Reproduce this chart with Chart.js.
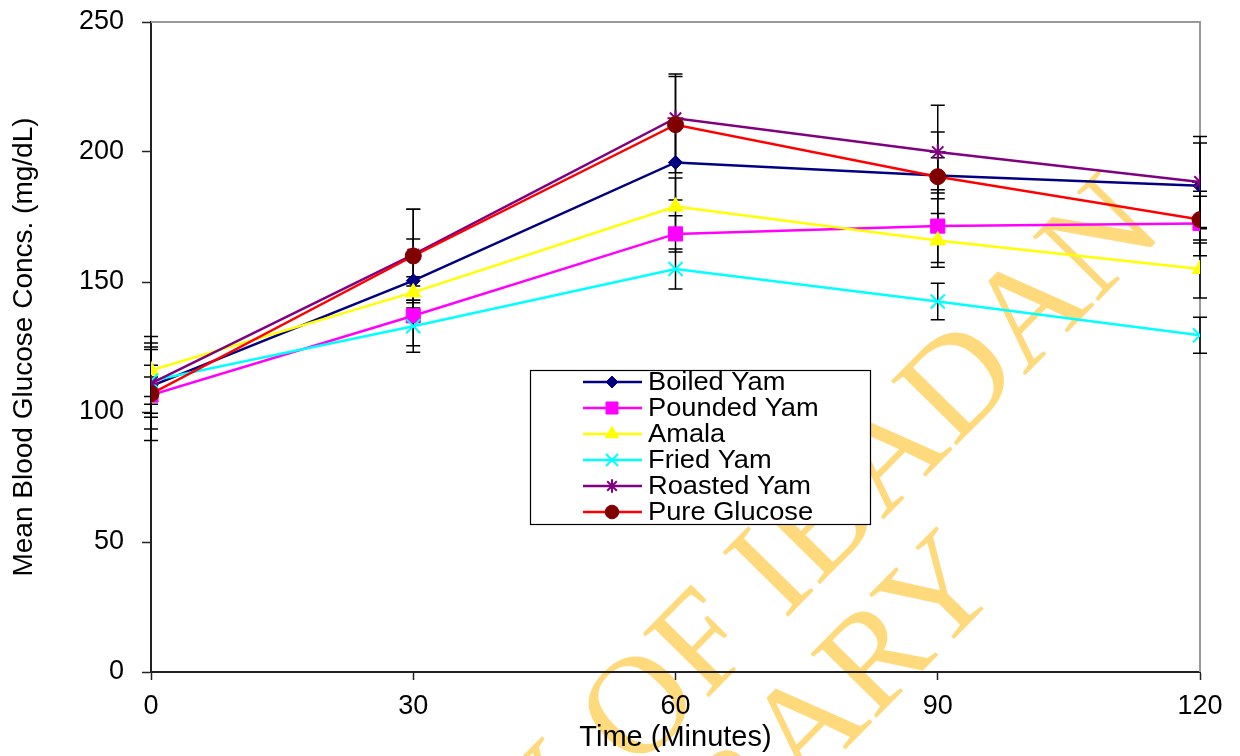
<!DOCTYPE html>
<html>
<head>
<meta charset="utf-8">
<script src="https://cdn.jsdelivr.net/npm/chart.js@4/dist/chart.umd.min.js"></script>
<style>
  body { margin: 0; background: #fff; }
  #wrap { width: 1240px; height: 756px; }
</style>
</head>
<body>
<div id="wrap"><canvas id="myChart" width="1240" height="756"></canvas></div>
<script>
// time points (minutes)
var times = [0, 30, 60, 90, 120]
var yTicks = [0, 50, 100, 150, 200, 250]

var seriesNames = ['Boiled Yam', 'Pounded Yam', 'Amala', 'Fried Yam', 'Roasted Yam', 'Pure Glucose']

// mean values
var boiled   = [110, 150.5, 196, 191, 187]
var pounded  = [106.5, 137, 168.5, 171.5, 172.5]
var amala    = [116, 146, 179, 166, 155]
var fried    = [112, 133, 155, 142.5, 129.5]
var roasted  = [111, 160.5, 213, 200, 188.5]
var glucose  = [107, 160, 210.5, 190.5, 174]

// error (+/-) for each point
var boiledErr  = [16.5, 16, 14.5, 6.8, 16.5]
var poundedErr = [7, 11.5, 7, 14, 12.4]
var amalaErr   = [13, 6, 11, 10.3, 11.2]
var friedErr   = [6, 10, 7.7, 7, 6.9]
var roastedErr = [13, 17.5, 17, 18, 17.5]
var glucoseErr = [18, 18, 18.5, 17.2, 9]

var means = [boiled, pounded, amala, fried, roasted, glucose]
var errs = [boiledErr, poundedErr, amalaErr, friedErr, roastedErr, glucoseErr]

var lineColors = ['#000080', '#ff00ff', '#ffff00', '#00ffff', '#800080', '#ff0000']
var markColors = ['#000080', '#ff00ff', '#ffff00', '#00ffff', '#800080', '#800000']
var markStyles = ['rectRot', 'rect', 'triangle', 'crossRot', 'star', 'circle']
var markSizes  = [7, 10, 9, 10, 8, 8]

Chart.defaults.font.family = '"Liberation Sans", Arial, sans-serif'
Chart.defaults.color = '#000'

var datasets = []
for (var i = 0; i < means.length; i++) {
    datasets.push({
        label: seriesNames[i],
        data: means[i].map(function(v, k){ return {x: times[k], y: v} }),
        errors: errs[i],
        borderColor: lineColors[i],
        borderWidth: 2.5,
        pointStyle: markStyles[i],
        pointRadius: markSizes[i],
        pointBackgroundColor: markColors[i],
        pointBorderColor: markColors[i],
        pointBorderWidth: (markStyles[i] == 'crossRot' || markStyles[i] == 'star') ? 2 : 1,
        fill: false,
        tension: 0,
        order: means.length - i
    })
}

// library watermark, under everything
var watermark = {
    id: 'watermark',
    beforeDraw: function(chart){
        var ctx = chart.ctx
        ctx.save()
        ctx.fillStyle = 'rgb(255,218,125)'
        ctx.font = '140px "Liberation Serif", serif'
        ctx.textAlign = 'right'
        ctx.textBaseline = 'alphabetic'
        ctx.save()
        ctx.translate(1166, 232)
        ctx.rotate(-45.5 * Math.PI / 180)
        ctx.fillText('UNIVERSITY OF IBADAN', 0, 0)
        ctx.restore()
        ctx.translate(1004, 588)
        ctx.rotate(-45.5 * Math.PI / 180)
        ctx.fillText('LIBRARY', 0, 0)
        ctx.restore()
    }
}

// gray frame on top/right + error bars
var errorBars = {
    id: 'errorBars',
    beforeDatasetsDraw: function(chart){
        var ctx = chart.ctx
        var a = chart.chartArea
        ctx.save()
        ctx.strokeStyle = '#999'
        ctx.lineWidth = 2
        ctx.beginPath()
        ctx.moveTo(a.left, a.top)
        ctx.lineTo(a.right, a.top)
        ctx.lineTo(a.right, a.bottom)
        ctx.stroke()

        var xs = chart.scales.x, ys = chart.scales.y
        ctx.strokeStyle = '#000'
        ctx.lineWidth = 1.5
        chart.data.datasets.forEach(function(ds){
            ds.data.forEach(function(p, k){
                var e = ds.errors[k]
                var px = xs.getPixelForValue(p.x)
                var top = ys.getPixelForValue(p.y + e)
                var bot = ys.getPixelForValue(p.y - e)
                ctx.beginPath()
                ctx.moveTo(px, top); ctx.lineTo(px, bot)
                ctx.moveTo(px - 7, top); ctx.lineTo(px + 7, top)
                ctx.moveTo(px - 7, bot); ctx.lineTo(px + 7, bot)
                ctx.stroke()
            })
        })
        ctx.restore()
    }
}

// boxed legend inside the plot
var boxLegend = {
    id: 'boxLegend',
    afterDraw: function(chart){
        var ctx = chart.ctx
        var bx = 530.5, by = 370.5, bw = 340, bh = 154
        ctx.save()
        ctx.fillStyle = '#fff'
        ctx.fillRect(bx, by, bw, bh)
        ctx.strokeStyle = '#000'
        ctx.lineWidth = 1.2
        ctx.strokeRect(bx, by, bw, bh)
        chart.data.datasets.forEach(function(ds, i){
            var y = 382 + i * 26
            ctx.strokeStyle = ds.borderColor
            ctx.lineWidth = 2.5
            ctx.beginPath()
            ctx.moveTo(583, y); ctx.lineTo(642, y)
            ctx.stroke()
            ctx.fillStyle = ds.pointBackgroundColor
            ctx.strokeStyle = ds.pointBorderColor
            ctx.lineWidth = ds.pointBorderWidth
            Chart.helpers.drawPoint(ctx, {pointStyle: ds.pointStyle, rotation: 0, radius: ds.pointRadius * 0.85, borderWidth: ds.pointBorderWidth}, 612, y)
            ctx.save()
            ctx.fillStyle = '#000'
            ctx.font = '25px "Liberation Sans", Arial, sans-serif'
            ctx.textAlign = 'left'
            ctx.textBaseline = 'middle'
            ctx.translate(648, y + 1)
            ctx.scale(1.09, 1)
            ctx.fillText(ds.label, 0, 0)
            ctx.restore()
        })
        ctx.restore()
    }
}

var chart = new Chart(document.getElementById('myChart').getContext('2d'), {
    type: 'line',
    data: { datasets: datasets },
    options: {
        responsive: false,
        animation: false,
        layout: { padding: { top: 22, right: 40, left: 0, bottom: 0 } },
        plugins: { legend: { display: false }, tooltip: { enabled: false } },
        scales: {
            x: {
                type: 'linear',
                min: times[0],
                max: times[times.length - 1],
                afterBuildTicks: function(scale){ scale.ticks = times.map(function(v){ return {value: v} }) },
                afterFit: function(scale){
                    scale.height = 84
                    scale.paddingLeft = 0; scale.paddingRight = 0
                },
                grid: { drawOnChartArea: false, tickLength: 8, tickColor: '#222', tickWidth: 1.5 },
                border: { color: '#222', width: 2 },
                ticks: { font: { size: 27 }, padding: 10, color: '#000', maxRotation: 0 },
                title: { display: true, text: 'Time (Minutes)', font: { size: 29 }, color: '#000', padding: { top: 2, bottom: 1 } }
            },
            y: {
                min: 0,
                max: 250,
                afterBuildTicks: function(scale){ scale.ticks = yTicks.map(function(v){ return {value: v} }) },
                afterFit: function(scale){
                    scale.width = 151
                    scale.paddingTop = 0; scale.paddingBottom = 0
                },
                grid: { drawOnChartArea: false, tickLength: 9, tickColor: '#222', tickWidth: 1.5 },
                border: { color: '#222', width: 2 },
                ticks: { font: { size: 27 }, padding: 18, color: '#000' },
                title: { display: true, text: 'Mean Blood Glucose Concs. (mg/dL)', font: { size: 28 }, color: '#000', padding: { top: 7, bottom: 7 } }
            }
        }
    },
    plugins: [watermark, errorBars, boxLegend]
})
</script>
</body>
</html>
